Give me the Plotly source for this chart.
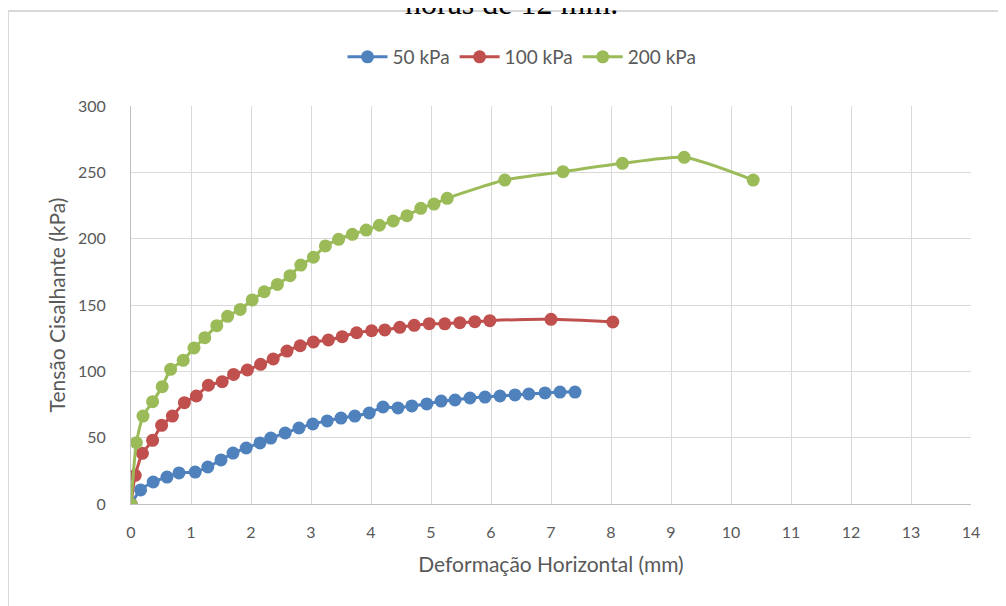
import plotly.graph_objects as go

x50 = [0, 0.16, 0.37, 0.6, 0.8, 1.07, 1.28, 1.5, 1.7, 1.92, 2.15, 2.33, 2.57, 2.8, 3.03, 3.27, 3.5, 3.73,
       3.97, 4.2, 4.45, 4.68, 4.93, 5.17, 5.4, 5.65, 5.9, 6.15, 6.4, 6.63, 6.9, 7.15, 7.4]
y50 = [0, 10.6, 16.6, 20.3, 23.4, 24.1, 27.9, 33.2, 38.4, 42.2, 46.0, 49.7, 53.5, 57.3, 60.3, 62.6, 64.8, 66.3,
       68.6, 73.1, 72.4, 73.9, 75.4, 77.6, 78.4, 79.9, 80.6, 81.4, 82.2, 82.9, 83.7, 84.4, 84.4]

x100 = [0, 0.07, 0.19, 0.36, 0.51, 0.69, 0.89, 1.09, 1.29, 1.52, 1.71, 1.94, 2.16, 2.37, 2.6, 2.82, 3.04, 3.29,
        3.52, 3.76, 4.01, 4.23, 4.48, 4.72, 4.97, 5.23, 5.48, 5.73, 5.98, 7.0, 8.03]
y100 = [0, 21.6, 38.2, 48.0, 59.3, 66.3, 76.4, 81.4, 89.5, 92.2, 97.7, 101.0, 105.3, 109.3, 115.3, 119.3, 122.1, 123.6,
        126.1, 129.1, 130.6, 131.2, 133.2, 134.7, 135.9, 135.8, 136.7, 137.4, 138.2, 139.2, 137.2]

x200 = [0, 0.09, 0.2, 0.36, 0.52, 0.66, 0.87, 1.05, 1.23, 1.43, 1.61, 1.82, 2.02, 2.22, 2.44, 2.65, 2.83, 3.04,
        3.24, 3.46, 3.69, 3.92, 4.14, 4.37, 4.6, 4.83, 5.05, 5.27, 6.23, 7.2, 8.19, 9.22, 10.37]
y200 = [0, 46.2, 66.3, 77.1, 88.4, 101.5, 108.3, 117.6, 125.4, 134.4, 141.5, 146.7, 153.8, 160.0, 165.5, 172.1, 180.1, 186.0,
        194.5, 199.5, 203.3, 206.5, 210.1, 213.3, 217.3, 222.9, 226.1, 230.4, 244.2, 250.5, 256.8, 261.3, 244.2]

names = ["50 kPa", "100 kPa", "200 kPa"]
colors = ["#4f81bd", "#c0504d", "#9bbb59"]
xticks = list(range(0, 15))
yticks = list(range(0, 301, 50))

FONT = "Lato"
fig = go.Figure()
for xs, ys, n, c in zip([x50, x100, x200], [y50, y100, y200], names, colors):
    fig.add_trace(go.Scatter(x=xs, y=ys, name=n, mode="lines+markers",
                             line=dict(color=c, width=3, shape="spline", smoothing=0.6),
                             marker=dict(color=c, size=13)))

OFF = 8  # page body margin
W, H = 1006 - OFF, 606 - OFF
# target plot area in screenshot pixels: x 131..971, y 106..504
L, T = 131 - OFF, 106 - OFF
pw, ph = 840, 398
R = W - L - pw
B = H - T - ph

def px(xp):
    return (xp - 131) / pw

def py(yp):
    return (504 - yp) / ph

fig.update_layout(
    width=W, height=H,
    margin=dict(l=L, r=R, t=T, b=B),
    paper_bgcolor="white", plot_bgcolor="white",
    font=dict(family=FONT, color="#595959", size=16),
    showlegend=True,
    legend=dict(orientation="h", x=px(522), y=py(57), xanchor="center", yanchor="middle",
                font=dict(size=19, color="#595959"), itemwidth=40, tracegroupgap=0),
    xaxis=dict(range=[0, 14], tickvals=xticks, ticktext=[str(v) for v in xticks],
               showgrid=True, gridcolor="#d9d9d9", gridwidth=1,
               zeroline=False, showline=True, linecolor="#bfbfbf", linewidth=1,
               ticks="", tickfont=dict(size=16, color="#595959"), ticklabelstandoff=14,
               title=dict(text="Deformação Horizontal (mm)", font=dict(size=21, color="#595959"), standoff=17)),
    yaxis=dict(range=[0, 300], tickvals=yticks, ticktext=[str(v) for v in yticks],
               showgrid=True, gridcolor="#d9d9d9", gridwidth=1,
               zeroline=False, showline=True, linecolor="#bfbfbf", linewidth=1,
               ticks="", tickfont=dict(size=16, color="#595959"), ticklabelstandoff=21,
               title=dict(text="Tensão Cisalhante (kPa)", font=dict(size=21, color="#595959"), standoff=6)),
    shapes=[dict(type="rect", xref="paper", yref="paper",
                 x0=px(8), x1=px(1030), y0=py(640), y1=py(11),
                 line=dict(color="#d9d9d9", width=2), layer="below")],
    annotations=[dict(text="horas de 12 mm.", xref="paper", yref="paper",
                      x=px(511), y=py(23), xanchor="center", yanchor="bottom", showarrow=False,
                      font=dict(family="Liberation Serif", size=32, color="black"))],
)

fig.write_html("out.html")
